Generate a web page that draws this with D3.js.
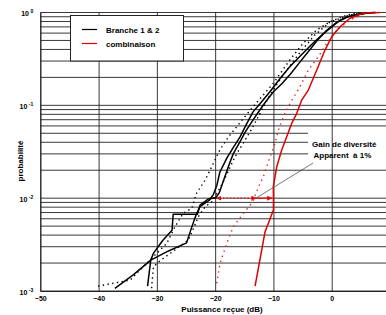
<!DOCTYPE html>
<html>
<head>
<meta charset="utf-8">
<script src="https://cdn.jsdelivr.net/npm/d3@7"></script>
<style>
  body { margin: 0; background: #fff; }
  svg { display: block; }
  text { font-family: Arial, "Liberation Sans", sans-serif; font-weight: bold; fill: #000; }
</style>
</head>
<body>
<script>
// values, [puissance recue (dB), probabilite]
var branche1 = [[-37.2,0.00107],[-34,0.0015],[-31.05,0.00215],[-28,0.0027],[-24.9,0.0033],[-24.2,0.0045],
  [-23.6,0.0058],[-23.1,0.007],[-22.6,0.0081],[-21.0,0.0095],[-20.3,0.011],[-19.7,0.0138],[-19.2,0.019],
  [-18.0,0.027],[-16.9,0.035],[-15.7,0.046],[-14.6,0.063],[-13.5,0.085],[-12.2,0.106],[-10.6,0.14],
  [-9.0,0.19],[-7.2,0.26],[-5.4,0.34],[-3.5,0.45],[-1.7,0.57],[0,0.7],[1.4,0.82],[3,0.91],[4.3,0.95],
  [6.6,0.995],[7.5,1]];

var branche2 = [[-31.6,0.00113],[-31.05,0.00215],[-30.6,0.00254],[-29,0.0035],[-27.4,0.0045],[-27.2,0.0067],
  [-25,0.0067],[-23.05,0.0067],[-22.6,0.0084],[-21.2,0.0098],[-19.9,0.0101],[-19.3,0.0114],[-18.8,0.014],
  [-18.2,0.018],[-17.6,0.023],[-16.9,0.03],[-15.8,0.04],[-14.8,0.052],[-13.6,0.068],[-12.4,0.088],
  [-11.3,0.11],[-10.0,0.14],[-8.6,0.17],[-7.0,0.22],[-5.5,0.29],[-4,0.38],[-2.5,0.5],[-0.9,0.64],
  [0.8,0.78],[2.5,0.89],[4.3,0.95],[6.6,0.995],[7.5,1]];

// dotted black curves (branches, second estimate)
var brancheDot1 = [[-40.1,0.00113],[-34.6,0.00131],[-31.2,0.00215],[-28.3,0.00326],[-26.9,0.00492],
  [-25.5,0.00686],[-24.0,0.0078],[-23.2,0.0113],[-21.7,0.0157],[-20.6,0.0218],[-19.2,0.033],[-17.7,0.0459],
  [-16.3,0.0588],[-14.9,0.0754],[-13.5,0.0966],[-10.0,0.173],[-7.2,0.308],[-4.9,0.466],[-2.6,0.648],
  [-0.3,0.796],[2.6,0.94],[4.9,1]];

var brancheDot2 = [[-30.9,0.00107],[-30.6,0.00182],[-29.7,0.00206],[-24.6,0.00354],[-23.7,0.00473],
  [-22.9,0.0063],[-21.7,0.0081],[-20.6,0.0091],[-19.7,0.0113],[-18.6,0.015],[-17.4,0.0218],[-16.6,0.0279],
  [-15.2,0.039],[-14.0,0.052],[-12.9,0.0695],[-12.3,0.082],[-10.6,0.129],[-8.35,0.212],[-5.4,0.375],
  [-2.9,0.573],[-0.3,0.79],[3.1,0.94],[5.7,0.99]];

var combinaison = [[-13.15,0.00113],[-11.44,0.00434],[-10.87,0.00537],[-10.0,0.00744],[-10.0,0.0095],
  [-10.02,0.0133],[-9.43,0.0218],[-8.58,0.033],[-7.72,0.0459],[-6.86,0.064],[-6.0,0.082],[-5.15,0.114],
  [-4.01,0.146],[-2.57,0.24],[-1.15,0.394],[0,0.548],[1.42,0.703],[3.14,0.866],[5.42,0.98],[8.3,1]];

var combinaisonDot = [[-19.73,0.00121],[-19.16,0.00198],[-18.0,0.00326],[-16.88,0.00492],[-15.16,0.00686],
  [-13.72,0.0088],[-12.3,0.0144],[-11.73,0.017],[-10.58,0.0279],[-9.73,0.039],[-9.16,0.054],[-8.3,0.0754],
  [-7.15,0.105],[-5.44,0.159],[-4.01,0.24],[-2.3,0.334],[-0.86,0.466],[0.86,0.648],[3.14,0.83],[5.42,0.96]];

// ticks and annotation
var xTicks = [-50, -40, -30, -20, -10, 0];
var yTicks = [1e-3, 1e-2, 1e-1, 1];
var gainDot = [[-13, 0.01], [-19.7, 0.01]];
var gainSolid = [[-13, 0.01], [-10.3, 0.01]];
var gainPointer = [[-3.2, 0.0239], [-13, 0.01]];
var legendItems = [["Branche 1 & 2", "#000"], ["combinaison", "#d00"]];
var annotation = ["Gain de diversité", "Apparent  à 1%"];

window.onload = function() {

  // size of the plot and margins
  var margin = { top: 12.5, right: 0, bottom: 23.5, left: 40.3 };
  var width = 349.7;
  var height = 278.5;

  var root = d3.select("body")
    .append("svg")
      .attr("width", 386)
      .attr("height", 315);

  // arrow heads for the gain arrows
  var defs = root.append("defs");
  defs.append("marker")
      .attr("id", "arr")
      .attr("viewBox", "0 0 10 10")
      .attr("refX", 9).attr("refY", 5)
      .attr("markerWidth", 5).attr("markerHeight", 5)
      .attr("markerUnits", "userSpaceOnUse")
      .attr("orient", "auto-start-reverse")
    .append("path")
      .attr("d", "M0,0L10,5L0,10z")
      .attr("fill", "#e00");

  var svg = root.append("g")
      .attr("transform", "translate(" + margin.left + "," + margin.top + ")");

  var x = d3.scaleLinear().domain([-50, 10]).range([0, width]);
  var y = d3.scaleLog().domain([1e-3, 1]).range([height, 0]);

  // horizontal grid, one line per 1..9 x decade
  svg.append("g")
      .attr("class", "hgrid")
    .selectAll("line")
    .data(y.ticks())
    .enter().append("line")
      .attr("x1", 0)
      .attr("x2", width)
      .attr("y1", function(d) { return y(d); })
      .attr("y2", function(d) { return y(d); })
      .attr("stroke", "#222")
      .attr("stroke-width", 0.9);

  // white patch behind the annotation text
  svg.append("rect")
      .attr("x", 308 - margin.left)
      .attr("y", 129 - margin.top)
      .attr("width", 90)
      .attr("height", 33)
      .attr("fill", "#fff");

  // x axis with vertical grid lines
  var xAxis = d3.axisBottom(x)
      .tickValues(xTicks)
      .tickSize(-height)
      .tickSizeOuter(0)
      .tickPadding(4);

  var gx = svg.append("g")
      .attr("transform", "translate(0," + height + ")")
      .call(xAxis);
  gx.select(".domain").attr("stroke", "#222");
  gx.selectAll(".tick line").attr("stroke", "#222").attr("stroke-width", 0.9);
  gx.selectAll(".tick text")
      .attr("font-size", "7px")
      .attr("font-family", "Arial, 'Liberation Sans', sans-serif")
      .attr("dy", "0.9em");

  // y axis, labels as 10 with exponent
  var yAxis = d3.axisLeft(y)
      .tickValues(yTicks)
      .tickSize(0)
      .tickPadding(7);

  var gy = svg.append("g").call(yAxis);
  gy.select(".domain").attr("stroke", "#222");
  gy.selectAll(".tick text")
      .attr("font-size", "7px")
      .attr("font-family", "Arial, 'Liberation Sans', sans-serif")
      .attr("dy", "0.45em")
      .each(function(d) {
        var t = d3.select(this).text("");
        t.append("tspan").text("10");
        t.append("tspan")
          .attr("dy", "-0.6em")
          .attr("dx", "0.3em")
          .attr("font-size", "5px")
          .text(Math.round(Math.log10(d)));
      });

  var line = d3.line()
      .x(function(d) { return x(d[0]); })
      .y(function(d) { return y(d[1]); });

  // gain arrows at 1%
  svg.append("path")
      .datum(gainDot)
      .attr("d", line)
      .attr("fill", "none")
      .attr("stroke", "#e00")
      .attr("stroke-width", 1.2)
      .attr("stroke-dasharray", "1.5,2")
      .attr("marker-start", "url(#arr)")
      .attr("marker-end", "url(#arr)");

  svg.append("path")
      .datum(gainSolid)
      .attr("d", line)
      .attr("fill", "none")
      .attr("stroke", "#e00")
      .attr("stroke-width", 1.2)
      .attr("marker-end", "url(#arr)");

  // the curves
  var curves = [
    { data: brancheDot1, color: "#000", dash: "1.4,3.4", w: 1.4 },
    { data: brancheDot2, color: "#000", dash: "1.4,3.4", w: 1.4 },
    { data: combinaisonDot, color: "#d22", dash: "1.4,4", w: 1.4 },
    { data: branche1, color: "#000", dash: null, w: 1.5 },
    { data: branche2, color: "#000", dash: null, w: 1.5 },
    { data: combinaison, color: "#d00", dash: null, w: 1.5 }
  ];

  svg.selectAll("path.curve")
    .data(curves)
    .enter().append("path")
      .attr("class", "curve")
      .attr("d", function(d) { return line(d.data); })
      .attr("fill", "none")
      .attr("stroke", function(d) { return d.color; })
      .attr("stroke-width", function(d) { return d.w; })
      .attr("stroke-dasharray", function(d) { return d.dash; })
      .attr("stroke-linejoin", "round");

  // pointer from the text to the arrow
  svg.append("path")
      .datum(gainPointer)
      .attr("d", line)
      .attr("fill", "none")
      .attr("stroke", "#555")
      .attr("stroke-width", 0.8);

  // annotation text
  svg.selectAll("text.annot")
    .data(annotation)
    .enter().append("text")
      .attr("class", "annot")
      .attr("x", function(d, i) { return 312 - margin.left + i * 1.5; })
      .attr("y", function(d, i) { return 147 - margin.top + i * 10.5; })
      .attr("font-size", "8px")
      .style("white-space", "pre")
      .text(function(d) { return d; });

  // legend box
  root.append("rect")
      .attr("x", 70.5)
      .attr("y", 15.5)
      .attr("width", 113)
      .attr("height", 45.5)
      .attr("fill", "#fff")
      .attr("stroke", "#222")
      .attr("stroke-width", 1);

  var legend = root.selectAll(".legend")
    .data(legendItems)
    .enter().append("g")
      .attr("class", "legend")
      .attr("transform", function(d, i) { return "translate(0," + (29.5 + i * 14) + ")"; });

  legend.append("line")
      .attr("x1", 82)
      .attr("x2", 97)
      .attr("stroke", function(d) { return d[1]; })
      .attr("stroke-width", 1.2);

  legend.append("text")
      .attr("x", 106)
      .attr("y", 3)
      .attr("font-size", "8px")
      .text(function(d) { return d[0]; });

  // axis titles
  root.append("text")
      .attr("x", 222)
      .attr("y", 312)
      .attr("text-anchor", "middle")
      .attr("font-size", "8px")
      .text("Puissance reçue (dB)");

  root.append("text")
      .attr("transform", "translate(23,161) rotate(-90)")
      .attr("text-anchor", "middle")
      .attr("font-size", "8px")
      .text("probabilité");
};
</script>
</body>
</html>
